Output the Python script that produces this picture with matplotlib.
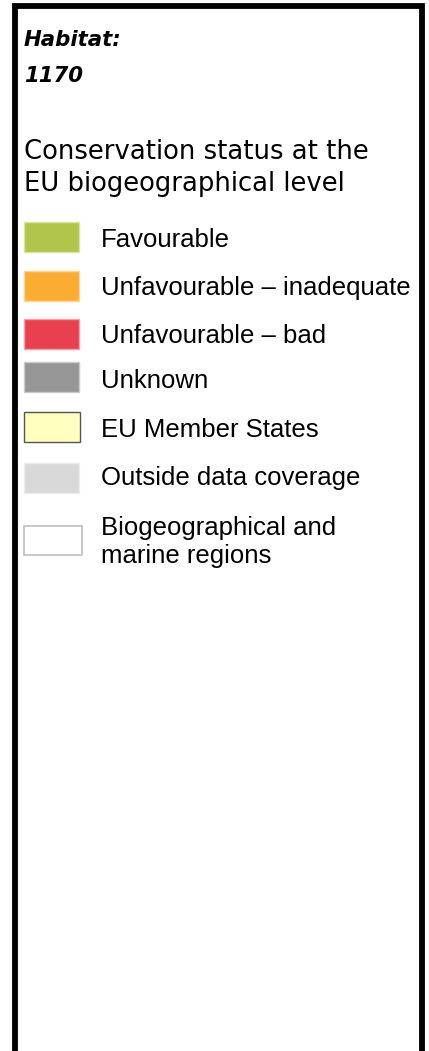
import matplotlib
matplotlib.use("Agg")
import matplotlib.pyplot as plt
from matplotlib.patches import Rectangle

# legend content
habitat_title = "Habitat:"
habitat_code = "1170"
status_heading = ["Conservation status at the", "EU biogeographical level"]
labels = ["Favourable", "Unfavourable \u2013 inadequate", "Unfavourable \u2013 bad",
          "Unknown", "EU Member States", "Outside data coverage",
          "Biogeographical and\nmarine regions"]
fill_colors = ["#b2c54b", "#fbad33", "#e8404f", "#969696", "#ffffc0", "#d9d9d9", "#ffffff"]
edge_colors = ["#d8e4a4", "#fdd49a", "#f3a0a8", "#cbcbcb", "#555555", "#ececec", "#c4c4c4"]

# layout in pixels (top-left origin)
W, H = 429, 1051
row_top = [222, 271, 319, 362, 412, 463, 526]
swatch_w = [55, 55, 55, 55, 56, 55, 58]
label_base = [247, 295, 343, 388, 437, 485, 535]

fig = plt.figure(figsize=(W / 100, H / 100), dpi=100)
ax = fig.add_axes([0, 0, 1, 1])
ax.set_xlim(0, W)
ax.set_ylim(H, 0)
ax.axis("off")

# frame (bottom is cut off)
ax.plot([14.5, 14.5, 422, 422], [H + 10, 6, 6, H + 10], color="black", lw=4.2,
        solid_joinstyle="miter")

ax.text(24, 46.5, habitat_title, fontsize=15.3, fontweight="bold", fontstyle="italic",
        family="DejaVu Sans", va="baseline", ha="left")
ax.text(24, 82, habitat_code, fontsize=15.3, fontweight="bold", fontstyle="italic",
        family="DejaVu Sans", va="baseline", ha="left")
ax.text(24, 159, status_heading[0], fontsize=18.6, family="DejaVu Sans",
        va="baseline", ha="left")
ax.text(24, 191, status_heading[1], fontsize=18.6, family="DejaVu Sans",
        va="baseline", ha="left")

for i, lab in enumerate(labels):
    h = 30 if i < 6 else 29
    ax.add_patch(Rectangle((24, row_top[i]), swatch_w[i], h, facecolor=fill_colors[i],
                           edgecolor=edge_colors[i], lw=1.0 if i != 6 else 1.3))
    if "\n" in lab:
        first, second = lab.split("\n")
        ax.text(101, label_base[i], first, fontsize=18.5, family="Liberation Sans",
                va="baseline", ha="left")
        ax.text(101, label_base[i] + 28.5, second, fontsize=18.5, family="Liberation Sans",
                va="baseline", ha="left")
    else:
        ax.text(101, label_base[i], lab, fontsize=18.5, family="Liberation Sans",
                va="baseline", ha="left")

plt.savefig("out.png", dpi=100, facecolor="white")
